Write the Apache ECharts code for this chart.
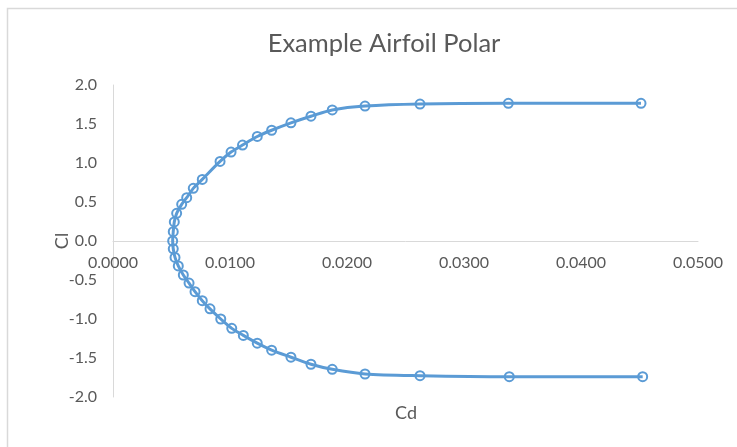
<!DOCTYPE html>
<html>
<head>
<meta charset="utf-8">
<script src="https://cdn.jsdelivr.net/npm/echarts@6/dist/echarts.min.js"></script>
<style>
html,body{margin:0;padding:0;background:#fff;}
#chart{width:737px;height:447px;}
</style>
</head>
<body>
<div id="chart"></div>
<script>
// Negative-lift branch, listed from Cl near 0 downwards
const cdLower = [0.00515, 0.00530, 0.00558, 0.00601, 0.00650, 0.00701, 0.00763, 0.00829, 0.00921, 0.01015, 0.01114, 0.01233, 0.01356, 0.01521, 0.01692, 0.01874, 0.02154, 0.02624, 0.03387, 0.04527];
const clLower = [-0.10, -0.21, -0.32, -0.436, -0.54, -0.65, -0.765, -0.87, -1.00, -1.12, -1.21, -1.31, -1.40, -1.49, -1.58, -1.645, -1.705, -1.727, -1.74, -1.74];
// Positive-lift branch, from Cl = 0 upwards
const cdUpper = [0.00510, 0.00515, 0.00524, 0.00544, 0.00587, 0.00630, 0.00686, 0.00763, 0.00915, 0.01009, 0.01107, 0.01233, 0.01356, 0.01521, 0.01692, 0.01874, 0.02154, 0.02624, 0.03379, 0.04513];
const clUpper = [0.00, 0.12, 0.245, 0.355, 0.47, 0.555, 0.675, 0.79, 1.02, 1.14, 1.23, 1.34, 1.42, 1.515, 1.60, 1.68, 1.73, 1.756, 1.765, 1.765];

const titleText = 'Example Airfoil Polar';
const xName = 'Cd';
const yName = 'Cl';

const data = [];
for (let i = cdLower.length - 1; i >= 0; i--) data.push([cdLower[i], clLower[i]]);
for (let i = 0; i < cdUpper.length; i++) data.push([cdUpper[i], clUpper[i]]);

const FONT = 'Lato, "Open Sans", sans-serif';
const chart = echarts.init(document.getElementById('chart'), null, {renderer: 'canvas'});
chart.setOption({
  backgroundColor: '#ffffff',
  animation: false,
  graphic: [{
    type: 'rect',
    shape: {x: 7.5, y: 8.5, width: 800, height: 500},
    style: {fill: 'none', stroke: '#D9D9D9', lineWidth: 1.5},
    silent: true
  }, {
    type: 'text',
    x: 406, y: 413,
    style: {text: xName, fontFamily: FONT, fontSize: 18, fill: '#595959', align: 'center', verticalAlign: 'middle'},
    silent: true
  }, {
    type: 'text',
    x: 62, y: 241,
    rotation: Math.PI / 2,
    style: {text: yName, fontFamily: FONT, fontSize: 18, fill: '#595959', align: 'center', verticalAlign: 'middle'},
    silent: true
  }],
  title: {
    text: titleText,
    left: 379,
    textAlign: 'center',
    top: 26,
    textStyle: {fontFamily: FONT, fontSize: 25.5, fontWeight: 'normal', color: '#595959'}
  },
  grid: {left: 113, right: 39, top: 85, bottom: 50, containLabel: false, outerBoundsMode: 'none'},
  xAxis: {
    type: 'value',
    min: 0, max: 0.05, interval: 0.01,
    offset: -156,
    axisLine: {show: true, onZero: false, lineStyle: {color: '#D9D9D9', width: 1}},
    axisTick: {show: false},
    splitLine: {show: false},
    axisLabel: {
      fontFamily: FONT, fontSize: 16, color: '#595959', margin: 14,
      formatter: v => v.toFixed(4)
    }
  },
  yAxis: {
    type: 'value',
    min: -2, max: 2, interval: 0.5,
    axisLine: {show: true, lineStyle: {color: '#D9D9D9', width: 1}},
    axisTick: {show: false},
    splitLine: {show: false},
    axisLabel: {
      fontFamily: FONT, fontSize: 16, color: '#595959', margin: 16,
      formatter: v => v.toFixed(1)
    }
  },
  series: [{
    type: 'line',
    data: data,
    smooth: 0.3,
    smoothMonotone: 'none',
    color: '#5B9BD5',
    lineStyle: {color: '#5B9BD5', width: 3},
    symbol: 'circle',
    symbolSize: 9,
    itemStyle: {color: 'rgba(255,255,255,0)', borderColor: '#5B9BD5', borderWidth: 2},
    z: 3
  }]
});
</script>
</body>
</html>
